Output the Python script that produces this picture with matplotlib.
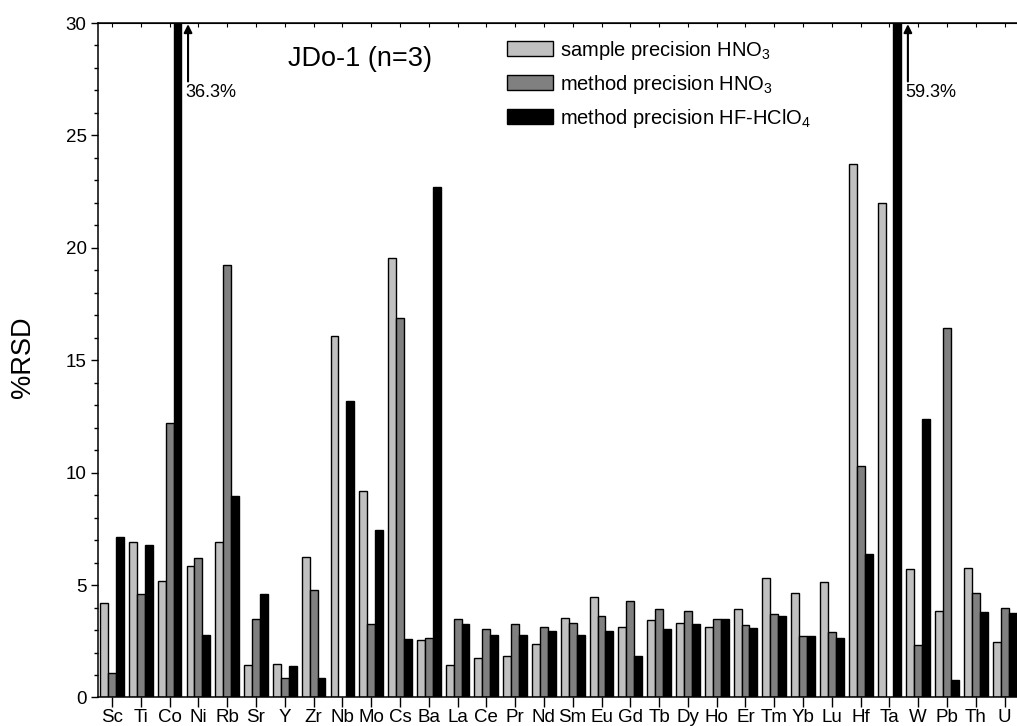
import numpy as np
import matplotlib
matplotlib.use('Agg')
import matplotlib.pyplot as plt

plt.rcParams['font.family'] = ['Liberation Sans', 'DejaVu Sans']
plt.rcParams['mathtext.fontset'] = 'custom'
plt.rcParams['mathtext.rm'] = 'Liberation Sans'
plt.rcParams['mathtext.it'] = 'Liberation Sans:italic'

elements = ['Sc', 'Ti', 'Co', 'Ni', 'Rb', 'Sr', 'Y', 'Zr', 'Nb', 'Mo', 'Cs', 'Ba',
            'La', 'Ce', 'Pr', 'Nd', 'Sm', 'Eu', 'Gd', 'Tb', 'Dy', 'Ho', 'Er', 'Tm',
            'Yb', 'Lu', 'Hf', 'Ta', 'W', 'Pb', 'Th', 'U']

sample_hno3 = [4.21, 6.93, 5.16, 5.87, 6.90, 1.43, 1.49, 6.27, 16.07, 9.18, 19.53, 2.54,
               1.43, 1.77, 1.83, 2.38, 3.52, 4.48, 3.12, 3.43, 3.30, 3.12, 3.95, 5.31,
               4.63, 5.15, 23.74, 22.01, 5.73, 3.86, 5.74, 2.47]
method_hno3 = [1.07, 4.60, 12.20, 6.19, 19.22, 3.47, 0.85, 4.76, None, 3.25, 16.87, 2.63,
               3.47, 3.03, 3.28, 3.15, 3.31, 3.64, 4.30, 3.92, 3.83, 3.47, 3.21, 3.73,
               2.73, 2.90, 10.29, None, 2.33, 16.45, 4.64, 3.96]
method_hf = [7.12, 6.76, 36.3, 2.76, 8.94, 4.60, 1.39, 0.85, 13.18, 7.47, 2.59, 22.69,
             3.27, 2.78, 2.76, 2.94, 2.78, 2.94, 1.84, 3.03, 3.27, 3.47, 3.07, 3.61,
             2.73, 2.64, 6.39, 59.3, 12.39, 0.79, 3.81, 3.74]

# off-scale bars get an arrow + label
offscale = {'Co': '36.3%', 'Ta': '59.3%'}

x = np.arange(len(elements))
w = 0.275

fig = plt.figure(figsize=(10.17, 7.26), dpi=100)
ax = fig.add_axes([0.096, 0.0393, 0.906, 0.929])

ax.bar(x - w, np.array(sample_hno3, dtype=float), w, color='#c0c0c0', edgecolor='black',
       linewidth=1, label=r'sample precision HNO$_3$')
ax.bar(x, np.array(method_hno3, dtype=float), w, color='#808080', edgecolor='black',
       linewidth=1, label=r'method precision HNO$_3$')
ax.bar(x + w, np.array(method_hf, dtype=float), w, color='black', edgecolor='black',
       linewidth=1, label=r'method precision HF-HClO$_4$')

ax.set_xlim(-0.5, len(elements) - 0.5)
ax.set_ylim(0, 30)
ax.set_xticks(x)
ax.set_xticklabels(elements, fontsize=13.5)
ax.set_yticks([0, 5, 10, 15, 20, 25, 30])
ax.set_yticks(np.arange(0, 31, 1), minor=True)
ax.tick_params(axis='y', which='major', direction='out', length=5, width=1, labelsize=13.5, pad=3)
ax.tick_params(axis='y', which='minor', direction='out', length=3, width=1)
ax.tick_params(axis='x', which='major', direction='out', length=7, width=1, pad=1.5)
for s in ax.spines.values():
    s.set_linewidth(1.1)

top = ax.secondary_xaxis('top')
top.set_xticks(x)
top.set_xticklabels([])
top.tick_params(direction='in', length=3, width=0.8)

for el, txt in offscale.items():
    i = elements.index(el)
    ax.annotate('', xy=(i + 0.64, 29.95), xytext=(i + 0.64, 27.4),
                arrowprops=dict(arrowstyle='-|>', color='black', lw=1.5, mutation_scale=12,
                                shrinkA=0, shrinkB=0))
    ax.text(i + 0.56, 26.9, txt, fontsize=13, ha='left', va='center')

ax.text(0.2847, 0.946, 'JDo-1 (n=3)', transform=ax.transAxes, fontsize=19.5,
        ha='center', va='center')

fig.text(0.0226, 0.508, '%RSD', rotation=90, fontsize=19.5, ha='center', va='center')

ax.legend(loc='upper left', bbox_to_anchor=(0.444, 0.977), frameon=False, fontsize=14.5,
          handlelength=2.3, handleheight=0.8, handletextpad=0.35, labelspacing=0.55,
          borderpad=0, borderaxespad=0)

fig.savefig('out.png', dpi=100)
